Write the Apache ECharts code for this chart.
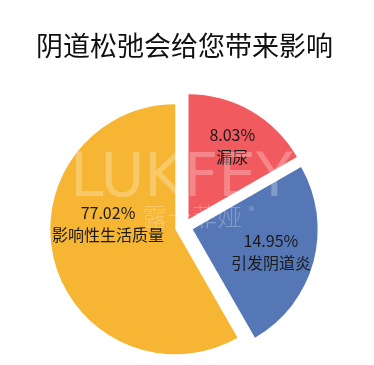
<!DOCTYPE html>
<html><head><meta charset="utf-8">
<script src="https://cdn.jsdelivr.net/npm/echarts@6/dist/echarts.min.js"></script>
<style>html,body{margin:0;padding:0;background:#fff}#c{width:374px;height:365px}</style>
</head><body><div id="c"></div>
<script>
// Data
const categories = ['漏尿', '引发阴道炎', '影响性生活质量'];
const printedPercent = ['8.03%', '14.95%', '77.02%'];   // labels as printed
const sliceShare = [16.7, 25.0, 58.3];                    // slice sizes as drawn (angles measured)
const titleText = '阴道松弛会给您带来影响';

// Styles
const colors = ['#F15A5F', '#5577B5', '#F6B532'];
const labelNudge = [[11, -17], [15, 5], [-4, -22]];
const FONT = '"Noto Sans CJK SC", "Noto Sans", sans-serif';

const chart = echarts.init(document.getElementById('c'), null, {renderer: 'canvas'});
chart.setOption({
  animation: false,
  backgroundColor: '#ffffff',
  title: {
    text: titleText, left: 31, top: 27,
    textStyle: {fontFamily: FONT, fontSize: 27, fontWeight: 'normal', color: '#111111'}
  },
  series: [{
    type: 'pie',
    center: [184, 227],
    radius: [0, 125],
    startAngle: 90,
    clockwise: true,
    selectedMode: 'multiple',
    selectedOffset: 9,
    avoidLabelOverlap: false,
    itemStyle: {borderWidth: 0},
    label: {
      show: true, position: 'inside',
      fontFamily: FONT, fontSize: 16, lineHeight: 22, color: '#1a1a1a',
      formatter: p => printedPercent[p.dataIndex] + '\n' + p.name
    },
    labelLayout: p => ({dx: labelNudge[p.dataIndex][0], dy: labelNudge[p.dataIndex][1]}),
    emphasis: {disabled: true},
    data: categories.map((c, i) => ({
      name: c, value: sliceShare[i], selected: true,
      itemStyle: {color: colors[i]}
    }))
  }],
  graphic: [
    {type: 'text', left: 70, top: 150, z: 100, silent: true,
     style: {text: 'LUKFEY', fontFamily: '"DejaVu Sans", sans-serif', fontWeight: 'normal',
             fontSize: 60, fill: 'rgba(255,255,255,0.27)'}},
    {type: 'text', left: 142, top: 204, z: 100, silent: true,
     style: {text: '露卡菲娅', fontFamily: FONT, fontWeight: 300,
             fontSize: 25, fill: 'rgba(255,255,255,0.28)'}},
    {type: 'text', left: 249, top: 205, z: 100, silent: true,
     style: {text: '®', fontFamily: FONT, fontSize: 11, fill: 'rgba(255,255,255,0.35)'}}
  ]
});
</script></body></html>
